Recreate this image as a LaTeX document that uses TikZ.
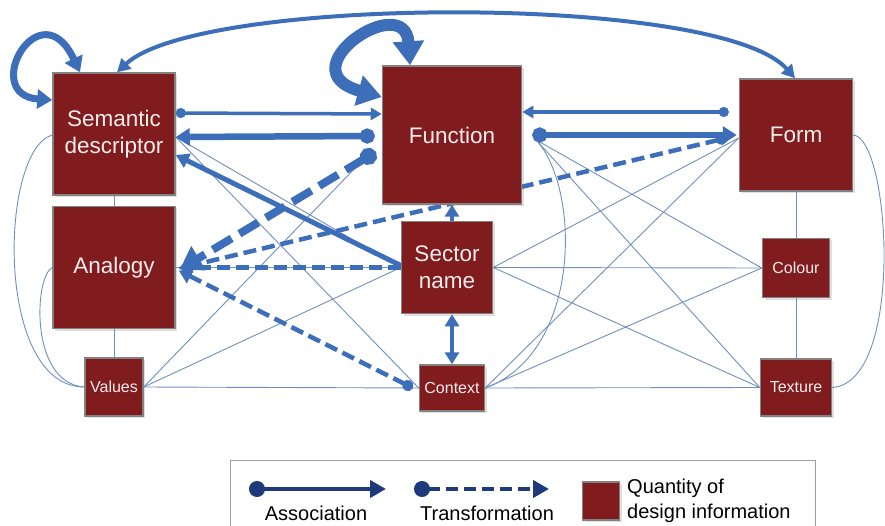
\documentclass[tikz,border=0pt]{standalone}
\usepackage{fontspec}
\setmainfont{Liberation Sans}
\usepackage{tikz}
\usetikzlibrary{arrows.meta, positioning, calc, backgrounds, shadows}
\definecolor{boxred}{RGB}{128,28,30}
\definecolor{boxedge}{RGB}{130,130,130}
\definecolor{boxtext}{RGB}{248,236,236}
\definecolor{arrowblue}{RGB}{60,110,185}
\definecolor{linkblue}{RGB}{112,143,190}
\definecolor{legendblue}{RGB}{30,58,122}
\tikzset{
    infobox/.style={
        rectangle,
        draw=boxedge,
        line width=1.5pt,
        fill=boxred,
        text=boxtext,
        inner sep=0pt,
        align=center,
        font=\fontsize{22.5}{27}\selectfont,
        drop shadow={shadow xshift=2pt, shadow yshift=-2pt, opacity=0.25}
    },
    minibox/.style={
        infobox,
        font=\fontsize{16}{19}\selectfont
    },
    link/.style={
        draw=linkblue,
        line width=0.9pt
    },
    assoc/.style={
        draw=arrowblue,
        line width=3.5pt,
        {Circle[length=10pt]}-{Triangle[length=11pt,width=12pt]}
    },
    assocthick/.style={
        draw=arrowblue,
        line width=6.5pt,
        {Circle[length=15pt]}-{Triangle[length=14pt,width=17pt]}
    },
    plainarrow/.style={
        draw=arrowblue,
        line width=4.5pt,
        -{Triangle[length=12pt,width=14pt]}
    },
    twoway/.style={
        draw=arrowblue,
        line width=4pt,
        {Triangle[length=13pt,width=14pt]}-{Triangle[length=13pt,width=14pt]}
    },
    trans/.style={
        draw=arrowblue,
        line width=4.5pt,
        dash pattern=on 13pt off 6pt,
        {Circle[length=11pt]}-{Triangle[length=13pt,width=15pt]}
    },
    transthick/.style={
        draw=arrowblue,
        line width=8pt,
        dash pattern=on 22pt off 9pt,
        {Circle[length=17pt]}-{Triangle[length=22pt,width=27pt]}
    },
    legendassoc/.style={
        draw=legendblue,
        line width=4pt,
        {Circle[length=16pt]}-{Triangle[length=16pt,width=17pt]}
    },
    legendtrans/.style={
        legendassoc,
        dash pattern=on 12pt off 6pt
    },
    legendtext/.style={
        font=\fontsize{20}{25}\selectfont,
        text=black,
        inner sep=0pt
    }
}
\begin{document}
\begin{tikzpicture}[x=1pt, y=-1pt]
\useasboundingbox (0,0) rectangle (885,526);

% left column
\node[infobox, minimum width=122pt, minimum height=122pt] (sem) at (114,134) {Semantic\\descriptor};
\node[infobox, minimum width=122pt, minimum height=122pt, below=10pt of sem] (ana) {Analogy};
\node[minibox, minimum width=58pt, minimum height=58pt, below=28pt of ana] (val) {Values};

% middle column
\node[infobox, minimum width=139pt, minimum height=138pt] (fun) at (452,135) {Function};
\node[infobox, minimum width=91pt, minimum height=92pt, below=16pt of fun, xshift=-5pt] (sec) {Sector\\name};
\node[minibox, minimum width=65pt, minimum height=46pt, below=50pt of sec, xshift=5pt] (ctx) {Context};

% right column
\node[infobox, minimum width=113pt, minimum height=112pt] (frm) at (796,135) {Form};
\node[minibox, minimum width=67pt, minimum height=59pt, below=46pt of frm] (col) {Colour};
\node[minibox, minimum width=71pt, minimum height=57pt, below=60pt of col] (tex) {Texture};

\coordinate (fdotL) at ([xshift=-14pt,yshift=-20pt]fun.west);
\coordinate (fdotR) at ([xshift=14pt,yshift=-5pt]fun.east);

\begin{scope}[on background layer]
% thin links, left side
\draw[link] (sem) -- (ana);
\draw[link] (ana) -- (val);
\draw[link] ([yshift=-1pt]sem.west) .. controls +(-53,15) and +(-90,0) .. (val.west);
\draw[link] (ana.west) .. controls +(-18,9) and +(-55,-4) .. (val.west);
\draw[link] (val.east) -- (ctx.west);
\draw[link] (val.east) -- (sec.west);
\draw[link] (val.east) -- (fdotL);
\draw[link] ([yshift=-3pt]sem.east) -- (ctx.west);
\draw[link] ([yshift=-3pt]sem.east) -- (sec.west);
\draw[link] (ana.east) -- (sec.west);

% thin links, right side
\draw[link] (frm) -- (col);
\draw[link] (col) -- (tex);
\draw[link] (frm.east) .. controls +(37,3) and +(73,-5) .. (tex.east);
\draw[link] (fdotR) -- (col.west);
\draw[link] (fdotR) -- (tex.west);
\draw[link] (fdotR) .. controls +(45,50) and +(96,-35) .. (ctx.east);
\draw[link] (sec.east) -- (col.west);
\draw[link] (sec.east) -- ([yshift=-3pt]frm.west);
\draw[link] (sec.east) -- (tex.west);
\draw[link] (ctx.east) -- (tex.west);
\draw[link] (ctx.east) -- (col.west);
\draw[link] (ctx.east) -- ([yshift=-3pt]frm.west);

% transformations
\draw[trans] ([xshift=-12pt,yshift=-3pt]frm.west) -- ([xshift=3pt,yshift=-1pt]ana.east);
\draw[trans, -{Triangle[length=13pt,width=15pt]}] (sec.west) -- ([xshift=3pt]ana.east);
\draw[trans] ([xshift=-6pt]ctx.west) -- ([xshift=3pt,yshift=-3pt]ana.east);
\draw[transthick] ([xshift=-6pt,yshift=-17pt]fun.west) -- ([xshift=4pt,yshift=-2pt]ana.east);

% associations
\draw[assoc] ([yshift=21pt]sem.east) -- ([yshift=21pt]fun.west);
\draw[assocthick] ([xshift=-7pt,yshift=-1pt]fun.west) -- ([yshift=-3pt]sem.east);
\draw[assoc] ([xshift=-10pt,yshift=23pt]frm.west) -- ([yshift=23pt]fun.east);
\draw[assocthick] ([xshift=10pt]fun.east) -- ([xshift=-2pt]frm.west);
\draw[plainarrow, line width=5pt, -{Triangle[length=13pt,width=15pt]}] ([yshift=2pt]sec.west) -- ([yshift=-21pt]sem.east);
\draw[plainarrow] (sec.north -| ctx.north) -- (fun.south -| ctx.north);
\draw[plainarrow, {Triangle[length=12pt,width=14pt]}-{Triangle[length=12pt,width=14pt]}] (ctx.north) -- (ctx.north |- sec.south);

% long arc and self loops
\draw[twoway] ([xshift=3pt]sem.north) .. controls +(83,-77) and +(-75,-85) .. ([xshift=-1pt]frm.north);
\draw[twoway, line width=7pt, {Triangle[length=15pt,width=19pt]}-{Triangle[length=15pt,width=19pt]}] ([yshift=34pt]sem.west) .. controls +(-73,-5) and +(-40,-85) .. ([xshift=-34pt]sem.north);
\draw[twoway, line width=12pt, {Triangle[length=24pt,width=30pt]}-{Triangle[length=24pt,width=30pt]}] ([yshift=38pt]fun.west) .. controls +(-97,-27) and +(-5,-76) .. ([xshift=-42pt]fun.north);
\end{scope}

% legend
\node[draw=gray!75, line width=1pt, fill=white, minimum width=585pt, minimum height=75pt, anchor=north west, inner sep=0pt] (legend) at (230,460) {};
\coordinate (asA) at (249,489);
\coordinate (asB) at (386,489);
\draw[legendassoc] (asA) -- (asB);
\node[legendtext] (astxt) at (316,513) {Association};
\coordinate (trA) at (414,489);
\coordinate (trB) at (549,489);
\draw[legendtrans] (trA) -- (trB);
\node[legendtext] (trtxt) at (487,513) {Transformation};
\node[infobox, minimum width=37pt, minimum height=38pt] (qsq) at (601,501) {};
\node[legendtext, anchor=west, align=left] (qtxt) at (627,501) {Quantity of\\design information};

\end{tikzpicture}
\end{document}
